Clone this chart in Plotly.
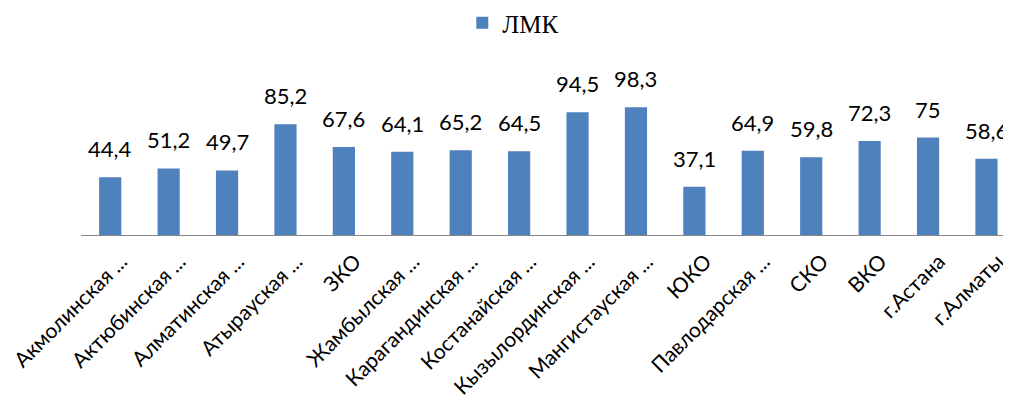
import plotly.graph_objs as go

# region labels as shown on the axis (Excel truncates the long names)
REGIONS = ["Акмолинская ...", "Актюбинская ...", "Алматинская ...", "Атырауская ...", "ЗКО",
           "Жамбылская ...", "Карагандинская ...", "Костанайская ...", "Кызылординская ...",
           "Мангистауская ...", "ЮКО", "Павлодарская ...", "СКО", "ВКО", "г.Астана", "г.Алматы"]
LMK = [44.4, 51.2, 49.7, 85.2, 67.6, 64.1, 65.2, 64.5, 94.5, 98.3, 37.1, 64.9, 59.8, 72.3, 75, 58.6]

BLUE = "#4F81BD"


def fmt(v):
    # comma as decimal separator, like the original
    return ("%g" % v).replace(".", ",")


trace = go.Bar(x=REGIONS, y=LMK, name="ЛМК", marker=dict(color=BLUE, line=dict(width=0)))

annotations = []
for region, value in zip(REGIONS, LMK):
    annotations.append(dict(x=region, y=value, text=fmt(value), showarrow=False,
                            yanchor="bottom", yshift=13,
                            font=dict(family="Lato, Open Sans, sans-serif", size=22, color="#000000")))

# page body has an 8px default margin, so the figure is 8px smaller than the window
layout = go.Layout(width=1003, height=395,
                   paper_bgcolor="white", plot_bgcolor="white",
                   margin=dict(l=73, r=0, t=97, b=168, autoexpand=False),
                   bargap=0.62,
                   showlegend=True,
                   legend=dict(orientation="h", x=0.41, xanchor="left", y=1.63, yanchor="middle",
                               font=dict(family="Liberation Serif, Times New Roman, serif", size=25,
                                         color="#000000")),
                   xaxis=dict(range=[-0.5, 15.42], showline=True, linecolor="#868686", linewidth=1,
                              ticks="", tickangle=-45, showgrid=False, automargin=False,
                              ticklabelstandoff=5, ticklabelshift=11,
                              tickfont=dict(family="Lato, Open Sans, sans-serif", size=21, color="#000000")),
                   yaxis=dict(range=[0, 100], visible=False, showgrid=False, automargin=False),
                   annotations=annotations)

fig = go.Figure(data=[trace], layout=layout)
fig.write_html("out.html")
